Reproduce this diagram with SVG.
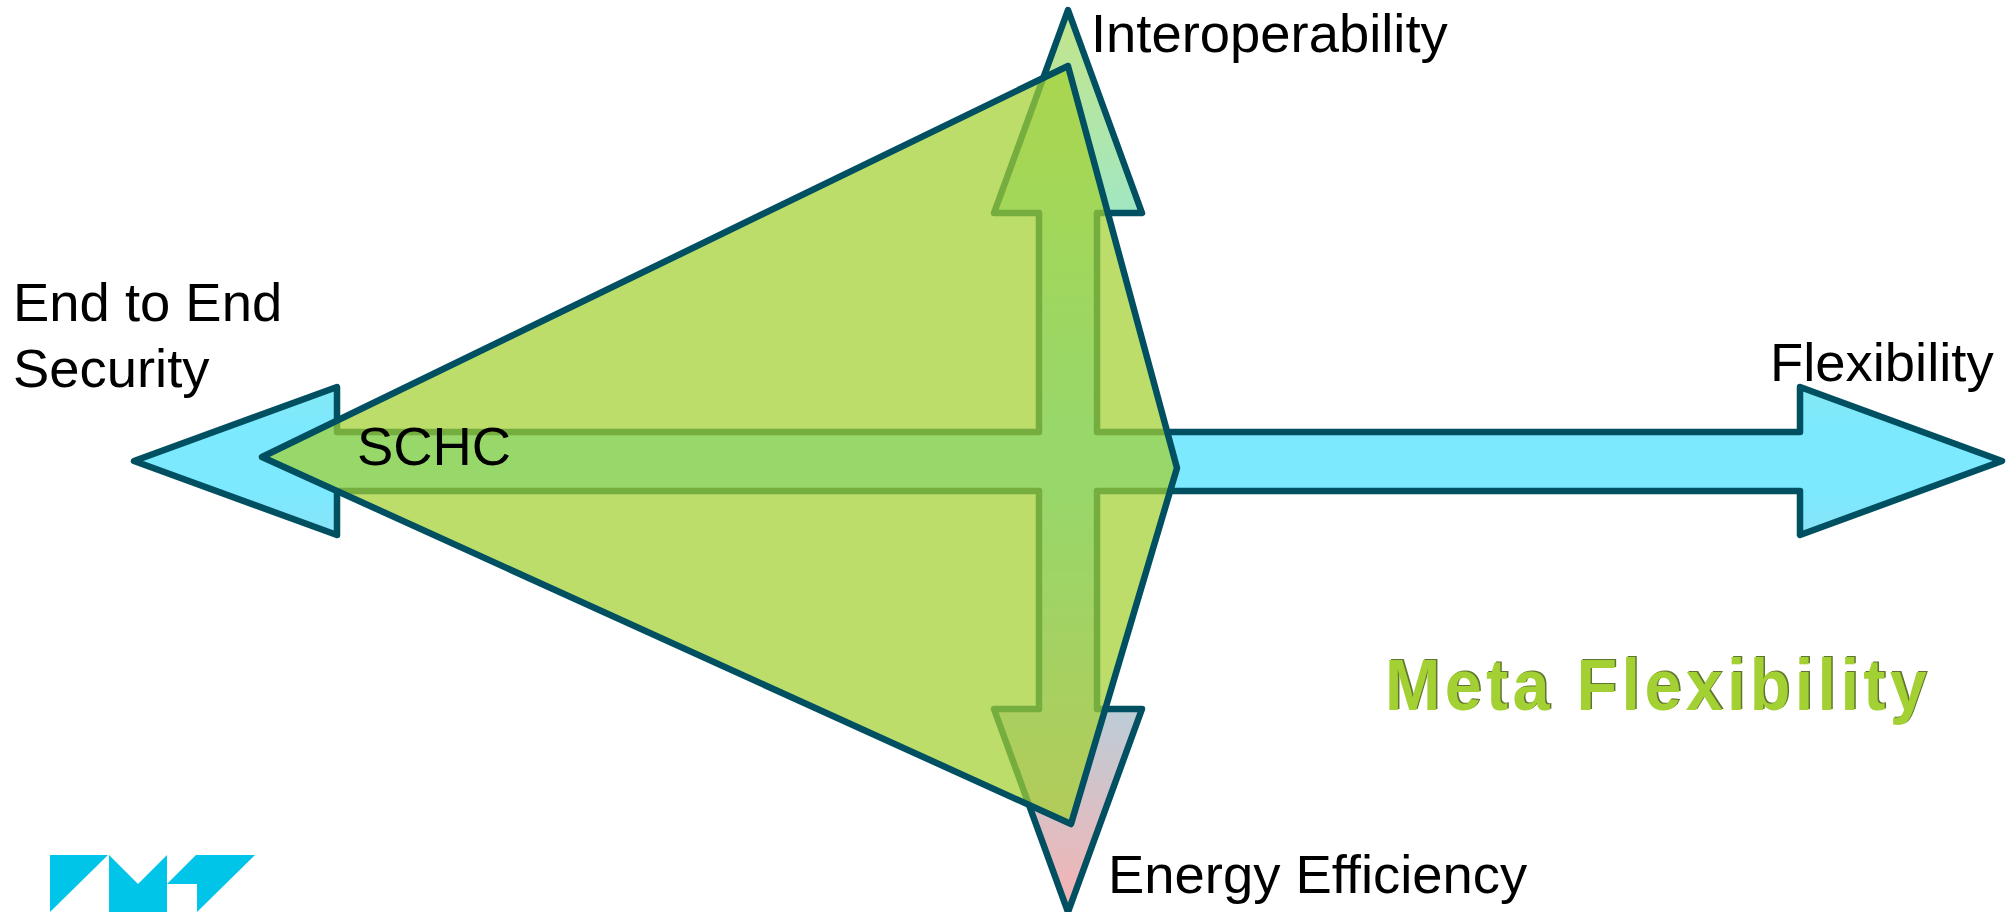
<svg xmlns="http://www.w3.org/2000/svg" width="2011" height="912" viewBox="0 0 2011 912">
<defs>
<linearGradient id="crossFill" gradientUnits="userSpaceOnUse" x1="0" y1="10" x2="0" y2="910">
<stop offset="0" stop-color="#c4e589"/>
<stop offset="0.467" stop-color="#7ce9ff"/>
<stop offset="0.533" stop-color="#7ce9ff"/>
<stop offset="1" stop-color="#f6b3b3"/>
</linearGradient>
</defs>
<style>
.line{stroke:#005062;stroke-width:6.5;stroke-linejoin:round}
.lbl{font-family:"Liberation Sans",Arial,sans-serif;font-size:54.4px;fill:#000}
.meta{font-family:"Liberation Sans",Arial,sans-serif;font-size:73px;font-weight:bold;letter-spacing:4.8px}
.logo{fill:#00c4e8}
</style>
<g id="connectors"></g>
<g id="cross">
<path class="line" fill="url(#crossFill)" d="M134 461L337 387V432H1039V213H994L1068 10L1142 213H1097V432H1800V387L2002 461L1800 535V491H1097V709H1142L1068 912L994 709H1039V491H337V535Z"/>
</g>
<g id="triangle">
<path class="line" fill="#a3d032" fill-opacity="0.725" d="M1068 66L262 457L1071 824L1177 468Z"/>
</g>
<g id="label-interoperability"><text class="lbl" x="1091" y="52">Interoperability</text></g>
<g id="label-security"><text class="lbl" x="13" y="321">End to End</text><text class="lbl" x="13" y="387">Security</text></g>
<g id="label-flexibility"><text class="lbl" x="1770" y="381">Flexibility</text></g>
<g id="label-energy"><text class="lbl" x="1108" y="893">Energy Efficiency</text></g>
<g id="label-schc"><text class="lbl" x="357" y="465">SCHC</text></g>
<g id="label-meta"><text class="meta" transform="translate(1386.5 708.5) scale(.91 1)" fill="#5f7430">Meta Flexibility</text><text class="meta" transform="translate(1385 710) scale(.91 1)" fill="#a3d032">Meta Flexibility</text></g>
<g id="logo">
<path class="logo" d="M50 855H108L50 912Z"/>
<path class="logo" d="M109 855L138 884L167 855V912H109Z"/>
<path class="logo" d="M167 884L196 855H255L197 912V884Z"/>
</g>
</svg>
